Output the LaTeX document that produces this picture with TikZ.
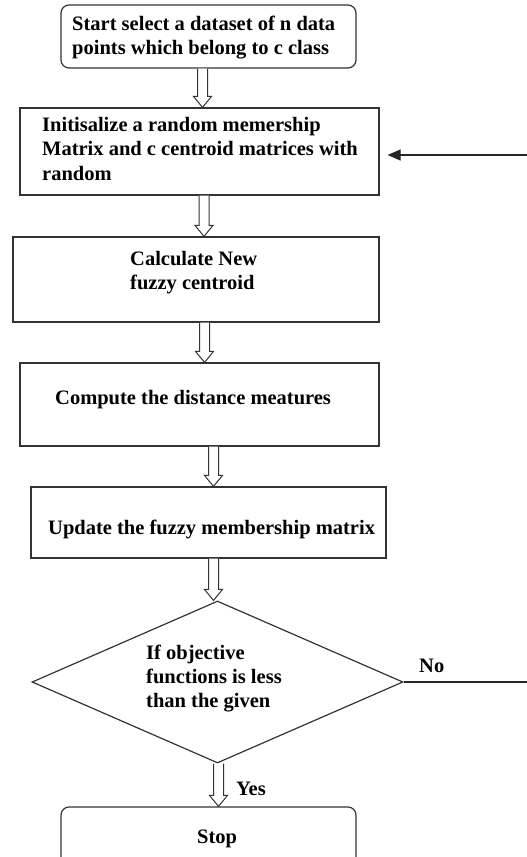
\documentclass[tikz,border=0pt]{standalone}
\usepackage{fontspec}
\setmainfont{Liberation Serif}
\usetikzlibrary{shapes.geometric,arrows.meta,calc}
\tikzset{
  box/.style={draw=black!80, line width=1.2pt, rectangle, inner sep=0pt},
  rbox/.style={box, rounded corners=8pt},
  txt/.style={anchor=base west, inner sep=0pt, text=black, font=\fontsize{20.5}{24.3}\selectfont\bfseries},
  harrow/.style={draw=black!80, line width=1pt, fill=white, to path={
    let \p1=(\tikztostart), \p2=(\tikztotarget) in
    (\x1-5pt,\y1) -- (\x1-5pt,\y2+11pt) -- (\x1-9pt,\y2+11pt) -- (\x1,\y2)
    -- (\x1+9pt,\y2+11pt) -- (\x1+5pt,\y2+11pt) -- (\x1+5pt,\y1)}},
  line/.style={draw=black!85, line width=1.2pt}
}
\newcommand{\ml}[1]{\begin{tabular}[t]{@{}l@{}}#1\end{tabular}}
\begin{document}
\begin{tikzpicture}[x=1pt,y=-1pt]
\useasboundingbox (0,0) rectangle (527,857);
\clip (0,0) rectangle (527,857);
% boxes
\node[rbox, minimum width=295pt, minimum height=63pt] (start) at (208.5,36.5) {};
\node[box, minimum width=359pt, minimum height=87pt] (init) at (199.5,151.5) {};
\node[box, minimum width=366pt, minimum height=85pt] (calc) at (196,279.5) {};
\node[box, minimum width=359pt, minimum height=83pt] (comp) at (199.5,404.5) {};
\node[box, minimum width=355pt, minimum height=71pt] (upd) at (208.5,522.5) {};
\node[draw=black!80, line width=1.2pt, diamond, inner sep=0pt, minimum width=371pt, minimum height=162pt] (dec) at (217.5,682) {};
\node[rbox, minimum width=295pt, minimum height=62pt] (stop) at (208.5,838) {};
% texts
\node[txt] (tstart) at (72,30) {\ml{Start select a dataset of n data\\points which belong to c class}};
\node[txt] (tinit) at (42,131.5) {\ml{Initisalize a random memership\\Matrix and c centroid matrices with\\random}};
\node[txt] (tcalc) at (130,265) {\ml{Calculate New\\fuzzy centroid}};
\node[txt] (tcomp) at (55,404) {Compute the distance meatures};
\node[txt] (tupd) at (48,534) {Update the fuzzy membership matrix};
\node[txt] (tdec) at (146,659) {\ml{If objective\\functions is less\\than the given}};
\node[txt] (tno) at (419,672) {No};
\node[txt] (tyes) at (236,795) {Yes};
\node[txt] (tstop) at (197,843) {Stop};
% hollow arrows
\draw[harrow] ([xshift=-6pt]start.south) to (init.north);
\draw[harrow] ([xshift=4.5pt]init.south) to (calc.north);
\draw[harrow] ([xshift=8.5pt]calc.south) to (comp.north);
\draw[harrow] ([xshift=14pt]comp.south) to (upd.north);
\draw[harrow] ([xshift=5pt]upd.south) to (dec.north);
\draw[harrow] ([xshift=1pt]dec.south) to (stop.north);
% feedback
\coordinate (fb) at (527,155);
\coordinate (noend) at (527,682);
\draw[line, -{Triangle[length=13pt,width=11pt]}, shorten >=8pt] (fb) -- (fb -| init.east);
\draw[line] (dec.east) -- (noend);
\end{tikzpicture}
\end{document}
